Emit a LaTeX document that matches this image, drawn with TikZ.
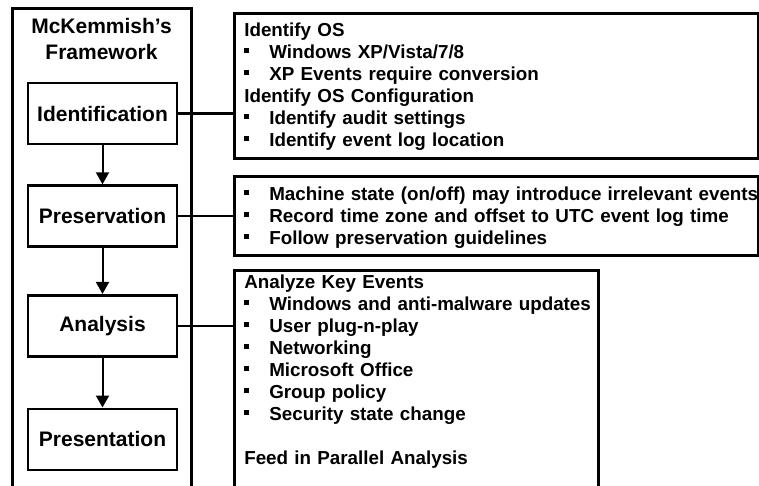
\documentclass[tikz,border=0pt]{standalone}
\usepackage{fontspec}
\setmainfont{Liberation Sans}
\usetikzlibrary{positioning, arrows.meta}
\newcommand{\bitem}[1]{\mbox{\makebox[25pt][l]{\raisebox{5pt}{\rule{5pt}{5pt}}}\textbf{#1}}}
\newcommand{\bhead}[1]{\textbf{#1}}

\begin{document}
\begin{tikzpicture}[x=1pt, y=-1pt,
    stage/.style={draw, line width=2.6pt, minimum width=149pt, minimum height=61pt,
      font=\fontsize{21}{25}\selectfont\bfseries},
    notes/.style={draw, line width=2.6pt, anchor=north west, align=left,
      inner xsep=10pt, inner ysep=0pt, font=\fontsize{18.8}{22}\selectfont},
    flow/.style={line width=2pt, -{Triangle[width=13pt,length=12pt]}},
    link/.style={line width=2.3pt}]
  \clip (0,0) rectangle (759,485);
  \node[draw, line width=2.6pt, anchor=north west, minimum width=179pt,
    minimum height=500pt] (frame) at (11,7) {};
  \node[align=center, font=\fontsize{21}{26}\selectfont\bfseries] (title) at (101.5,39)
    {McKemmish’s\\Framework};
  \node[stage] (ident) at (102.5,113.5) {Identification};
  \node[stage, below=39pt of ident] (pres) {Preservation};
  \node[stage, below=46pt of pres] (anal) {Analysis};
  \node[stage, below=50pt of anal] (prsnt) {Presentation};
  \draw[flow] (ident) -- (pres);
  \draw[flow] (pres) -- (anal);
  \draw[flow] (anal) -- (prsnt);

  \node[notes, text width=504pt, text height=23pt, text depth=122pt] (osbox) at (233,12)
    {\bhead{Identify OS}\\
     \bitem{Windows XP/Vista/7/8}\\
     \bitem{XP Events require conversion}\\
     \bhead{Identify OS Configuration}\\
     \bitem{Identify audit settings}\\
     \bitem{Identify event log location}};
  \node[notes, text width=504pt, text height=24pt, text depth=55pt] (stbox) at (233,175)
    {\bitem{Machine state (on/off) may introduce irrelevant events}\\
     \bitem{Record time zone and offset to UTC event log time}\\
     \bitem{Follow preservation guidelines}};
  \node[notes, text width=344pt, text height=18pt, text depth=230pt] (evbox) at (233,269)
    {\bhead{Analyze Key Events}\\
     \bitem{Windows and anti-malware updates}\\
     \bitem{User plug-n-play}\\
     \bitem{Networking}\\
     \bitem{Microsoft Office}\\
     \bitem{Group policy}\\
     \bitem{Security state change}\\[22pt]
     \bhead{Feed in Parallel Analysis}};

  \draw[link] (ident.east) -- (ident.east -| osbox.west);
  \draw[link] (pres.east) -- (pres.east -| stbox.west);
  \draw[link] (anal.east) -- (anal.east -| evbox.west);
\end{tikzpicture}
\end{document}
